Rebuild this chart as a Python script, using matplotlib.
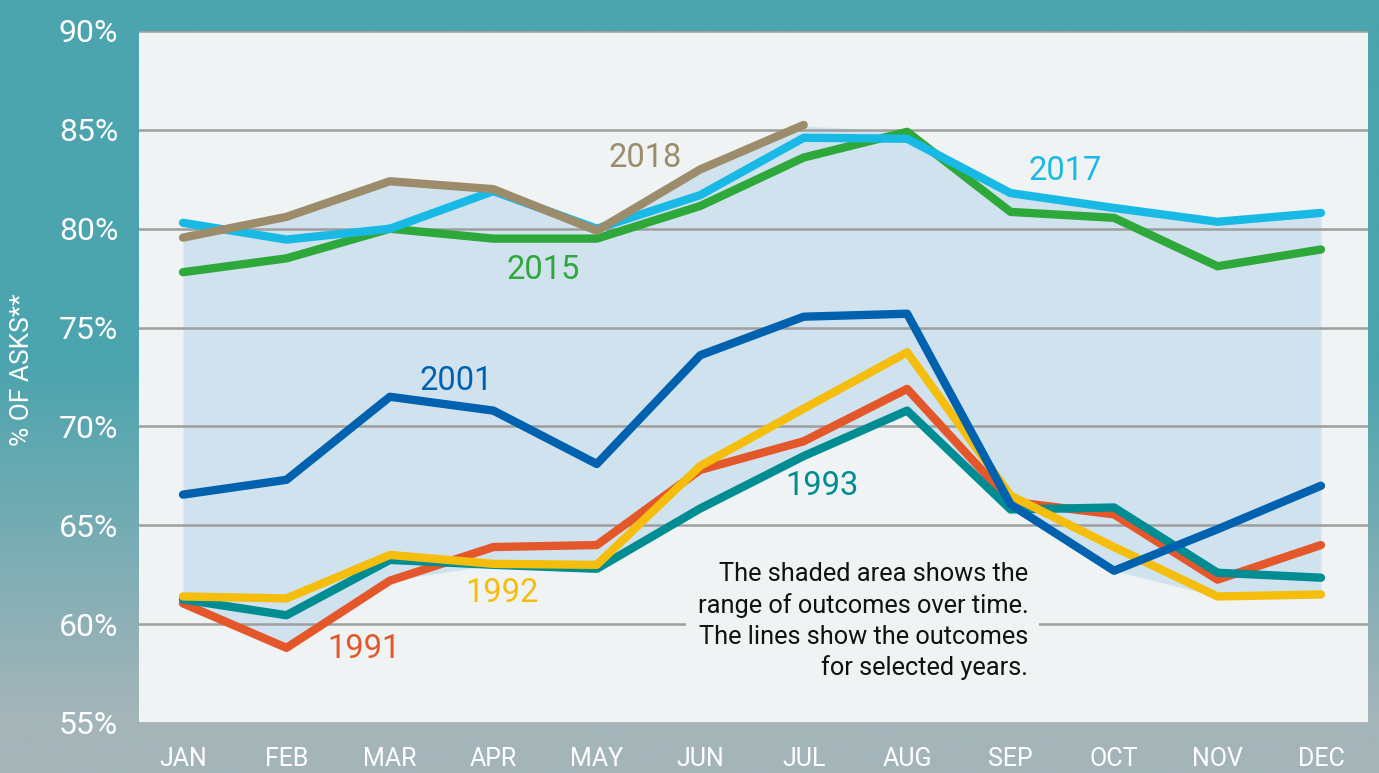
import numpy as np
import matplotlib
matplotlib.use("Agg")
import matplotlib.pyplot as plt
from matplotlib.colors import to_rgb

plt.rcParams['font.family'] = ['Roboto', 'DejaVu Sans']

# Data
months = ["JAN", "FEB", "MAR", "APR", "MAY", "JUN", "JUL", "AUG", "SEP", "OCT", "NOV", "DEC"]
range_high = [79.6, 80.5, 82.3, 81.9, 80.0, 82.9, 85.2, 84.9, 81.8, 81.0, 80.3, 80.8]
range_low = [61.0, 58.8, 62.2, 63.0, 62.8, 65.9, 68.5, 70.8, 65.8, 62.7, 61.4, 61.5]

y2018 = [79.55, 80.6, 82.4, 82.0, 79.9, 83.0, 85.25]
y2017 = [80.3, 79.45, 80.0, 81.9, 80.0, 81.7, 84.6, 84.55, 81.8, 81.05, 80.35, 80.8]
y2015 = [77.8, 78.5, 80.0, 79.5, 79.5, 81.15, 83.6, 84.9, 80.85, 80.55, 78.1, 78.95]
y2001 = [66.55, 67.3, 71.5, 70.8, 68.1, 73.6, 75.55, 75.7, 66.05, 62.7, 64.8, 67.0]
y1993 = [61.25, 60.45, 63.25, 63.0, 62.8, 65.85, 68.5, 70.8, 65.8, 65.9, 62.6, 62.35]
y1992 = [61.4, 61.3, 63.5, 63.05, 63.0, 68.0, 70.9, 73.75, 66.5, 63.9, 61.4, 61.5]
y1991 = [61.05, 58.8, 62.2, 63.9, 64.0, 67.8, 69.25, 71.9, 66.2, 65.55, 62.25, 64.0]

yticks = [55, 60, 65, 70, 75, 80, 85, 90]

W, H = 1379, 773
fig = plt.figure(figsize=(W / 100, H / 100), dpi=100)

# gradient background
top = np.array(to_rgb("#4ba4ae"))
bot = np.array(to_rgb("#a4b5b9"))
rows = np.linspace(0, 1, 400)
t = np.clip((rows - 0.47) / (0.92 - 0.47), 0, 1)
grad = top[None, :] * (1 - t[:, None]) + bot[None, :] * t[:, None]
bg = fig.add_axes([0, 0, 1, 1], zorder=-10)
bg.imshow(grad[:, None, :], aspect="auto", extent=[0, 1, 0, 1])
bg.axis("off")

ax = fig.add_axes([139 / W, 1 - 723 / H, (1368 - 139) / W, (723 - 31) / H])
ax.set_facecolor("#eff3f4")
x = np.arange(len(months))

ax.fill_between(x, range_low, range_high, color="#d0e2ee", zorder=1, linewidth=0)
for yv in yticks:
    ax.axhline(yv, color="#9e9e9e", lw=1.8, zorder=2)

lw = 6
ax.plot(x, y1991, color="#e4572a", lw=lw, solid_capstyle="round", zorder=3)
ax.plot(x, y1993, color="#008c93", lw=lw, solid_capstyle="round", zorder=4)
ax.plot(x, y1992, color="#f5be0c", lw=lw, solid_capstyle="round", zorder=5)
ax.plot(x, y2001, color="#0061af", lw=lw, solid_capstyle="round", zorder=6)
ax.plot(x, y2015, color="#2ea83a", lw=lw, solid_capstyle="round", zorder=7)
ax.plot(x, y2017, color="#19b9e6", lw=lw, solid_capstyle="round", zorder=8)
ax.plot(x[:len(y2018)], y2018, color="#9c8c6c", lw=lw, solid_capstyle="round", zorder=9)

lab = dict(fontsize=23.5, ha="center", va="center", zorder=10)
ax.text(4.47, 83.6, "2018", color="#9c8c6c", **lab)
ax.text(8.53, 82.9, "2017", color="#19b9e6", **lab)
ax.text(3.48, 77.9, "2015", color="#2ea83a", **lab)
ax.text(2.64, 72.3, "2001", color="#0061af", **lab)
ax.text(6.18, 67.0, "1993", color="#008c93", **lab)
ax.text(3.08, 61.55, "1992", color="#f5be0c", **lab)
ax.text(1.75, 58.75, "1991", color="#e4572a", **lab)

ax.text(8.17, 60.15,
        "The shaded area shows the\nrange of outcomes over time.\nThe lines show the outcomes\nfor selected years.",
        fontsize=18.3, ha="right", va="center", multialignment="right", color="#111111",
        linespacing=1.35, zorder=10,
        bbox=dict(facecolor="#eff3f4", edgecolor="none", pad=8))

ax.set_xlim((139 - 183) / 103.45, (1368 - 183) / 103.45)
ax.set_ylim(55, 90)
ax.set_xticks(x)
ax.set_xticklabels(months)
ax.set_yticks(yticks)
ax.set_yticklabels([f"{v}%" for v in yticks])
ax.tick_params(axis="x", length=0, pad=17, labelsize=18, labelcolor="white")
ax.tick_params(axis="y", length=0, pad=15, labelsize=23, labelcolor="white")
for s in ax.spines.values():
    s.set_visible(False)

fig.text(22 / W, 1 - 370 / H, "% OF ASKS**", rotation=90, color="white",
         fontsize=19, ha="center", va="center")

fig.savefig("out.png", dpi=100)
